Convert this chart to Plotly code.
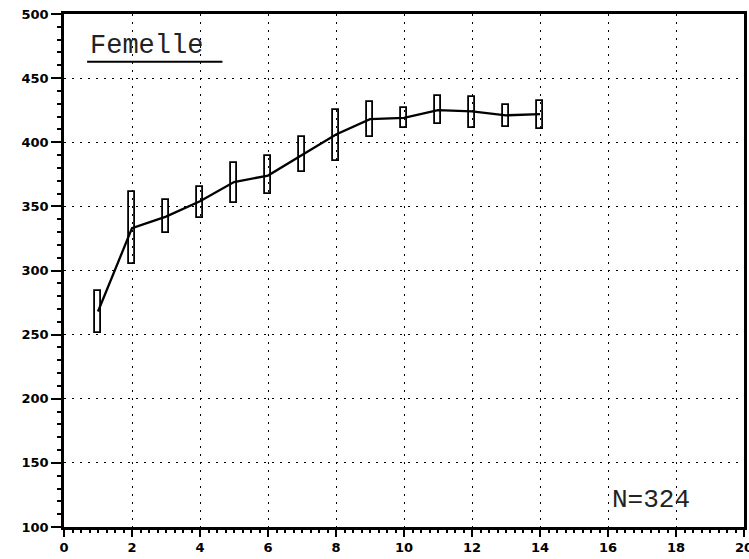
import plotly.graph_objects as go

# Age classes and measured values (mean with min/max range per class)
ages = [1, 2, 3, 4, 5, 6, 7, 8, 9, 10, 11, 12, 13, 14]
means = [268, 333, 342, 354, 369, 374, 390, 406, 418, 419, 425, 424, 421, 422]
lows = [251, 305, 329, 341, 353, 360, 377, 385, 404, 411, 414, 411, 412, 410]
highs = [284, 361, 355, 365, 384, 389, 404, 425, 431, 427, 436, 435, 429, 432]

title_text = "Femelle"
count_text = "N=324"

x_ticks = list(range(0, 21, 2))
y_ticks = list(range(100, 501, 50))

fig = go.Figure()

# Range boxes: each bar spans from the low to the high value
fig.add_trace(go.Bar(
    x=ages,
    base=lows,
    y=[h - l for h, l in zip(highs, lows)],
    width=0.2,
    marker=dict(color="rgba(0,0,0,0)", line=dict(color="black", width=1.8)),
    showlegend=False,
    hoverinfo="skip",
))

# Mean curve
fig.add_trace(go.Scatter(
    x=ages, y=means, mode="lines",
    line=dict(color="black", width=2.3),
    showlegend=False,
))

tick_font = dict(family="DejaVu Sans", size=13, color="black", weight="bold")

fig.update_xaxes(
    range=[0, 20], tickvals=x_ticks, ticktext=[str(v) for v in x_ticks],
    showgrid=True, gridcolor="black", gridwidth=1.3, griddash="2px,6px",
    showline=True, linecolor="black", linewidth=2.5, mirror=True,
    ticks="outside", ticklen=7, tickwidth=2, tickcolor="black",
    minor=dict(dtick=0.25, ticks="outside", ticklen=3, tickwidth=1.5,
               tickcolor="black", showgrid=False),
    tickfont=tick_font, zeroline=False, ticklabeloverflow="allow",
    automargin=False,
)
fig.update_yaxes(
    range=[100, 500], tickvals=y_ticks, ticktext=[str(v) for v in y_ticks],
    showgrid=True, gridcolor="black", gridwidth=1.3, griddash="2px,6px",
    showline=True, linecolor="black", linewidth=2.5, mirror=True,
    ticks="outside", ticklen=10, tickwidth=2, tickcolor="black",
    minor=dict(dtick=10, ticks="outside", ticklen=4, tickwidth=1.5,
               tickcolor="black", showgrid=False),
    tickfont=tick_font, zeroline=False, ticklabeloverflow="allow",
    automargin=False,
)

# Underlined heading and sample-size note
fig.add_annotation(
    x=0.036, y=0.937, xref="paper", yref="paper", xanchor="left", yanchor="middle",
    text=title_text, showarrow=False,
    font=dict(family="Liberation Mono", size=27, color="#222"),
)
fig.add_shape(type="line", xref="paper", yref="paper",
              x0=0.034, x1=0.233, y0=0.907, y1=0.907,
              line=dict(color="black", width=2))
fig.add_annotation(
    x=0.803, y=0.052, xref="paper", yref="paper", xanchor="left", yanchor="middle",
    text=count_text, showarrow=False,
    font=dict(family="Liberation Mono", size=26, color="#222"),
)

fig.update_layout(
    width=749, height=559,
    margin=dict(l=64, r=5, t=14, b=32),
    paper_bgcolor="white", plot_bgcolor="white",
    bargap=0,
)

fig.write_html("out.html")
